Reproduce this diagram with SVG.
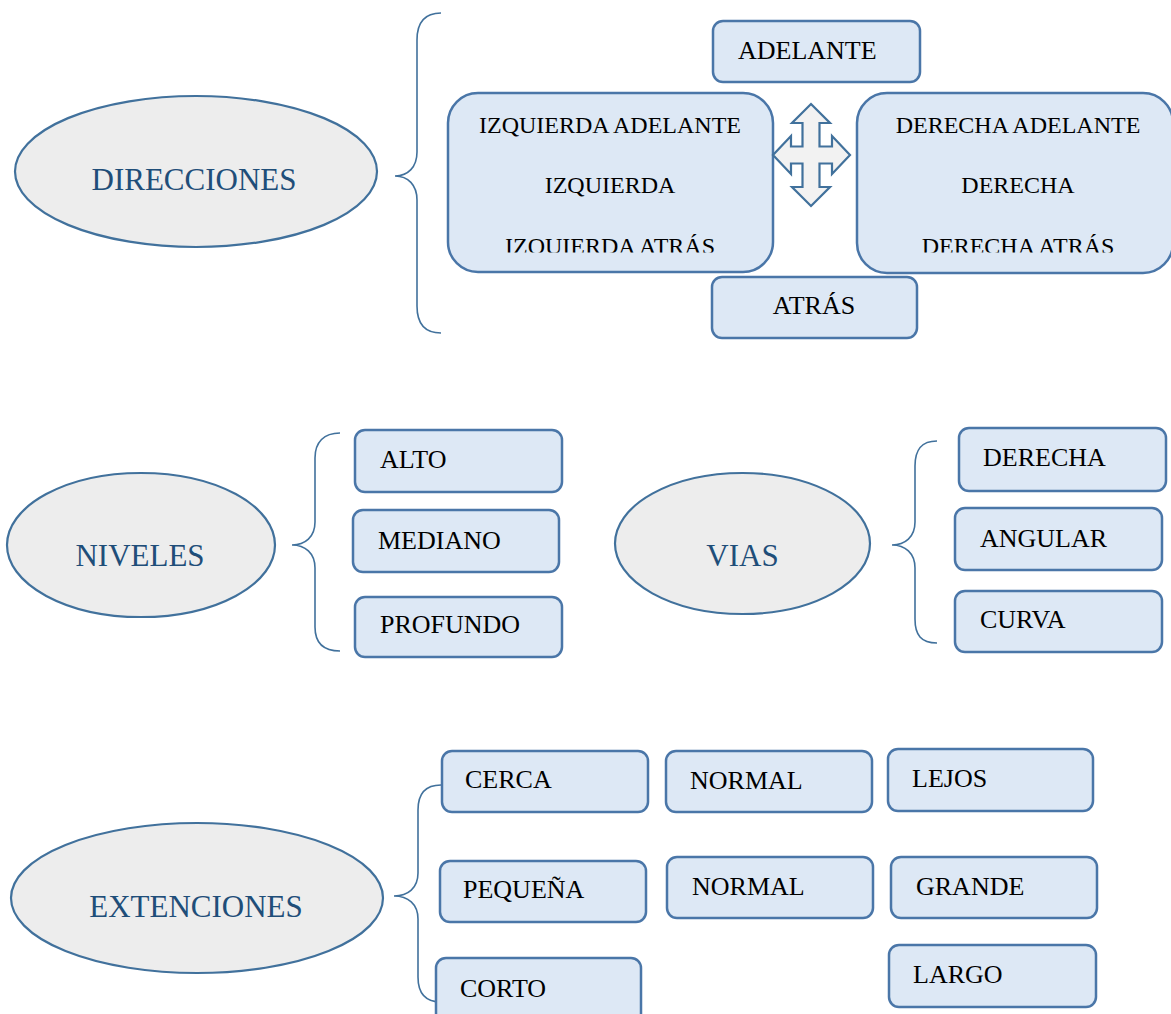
<svg xmlns="http://www.w3.org/2000/svg" width="1171" height="1014" viewBox="0 0 1171 1014">
<style>
.ell{fill:#ededed;stroke:#41719c;stroke-width:2.2}
.box{fill:#dde8f5;stroke:#4a76a8;stroke-width:2.5}
.big{fill:#dde8f5;stroke:#4a76a8;stroke-width:2.5}
.et{font-family:"Liberation Serif","Times New Roman",serif;font-size:31px;fill:#1f4e79;text-anchor:middle}
.bt{font-family:"Liberation Serif","Times New Roman",serif;font-size:26px;fill:#000}
.gt{font-family:"Liberation Serif","Times New Roman",serif;font-size:24px;fill:#000;text-anchor:middle}
.brace{fill:none;stroke:#41719c;stroke-width:1.6}
.cross{fill:#f2f2f2;stroke:#41719c;stroke-width:2.2;stroke-linejoin:miter}
</style>
<defs>
<clipPath id="clipL"><rect x="448" y="93" width="325" height="159.5"/></clipPath>
<clipPath id="clipR"><rect x="857" y="93" width="316" height="159.5"/></clipPath>
</defs>
<rect width="1171" height="1014" fill="#ffffff"/>

<g id="connectors">
<path class="brace" d="M441,13 C425,13 417,22 417,40 L417,152 C417,167 408,176 395,176 C408,176 417,185 417,200 L417,306 C417,324 425,333 441,333"/>
<path class="brace" d="M340,433 C324,433 315,442 315,458 L315,522 C315,537 305,545 292,545 C305,545 315,553 315,568 L315,627 C315,643 324,651 340,651"/>
<path class="brace" d="M937,441 C921,441 915,450 915,466 L915,522 C915,537 905,545 892,545 C905,545 915,553 915,568 L915,619 C915,635 921,643 937,643"/>
<path class="brace" d="M441,785 C425,785 418,794 418,810 L418,873 C418,888 408,896 394,896 C408,896 418,904 418,919 L418,977 C418,993 425,1002 441,1002"/>
</g>

<g id="direcciones">
<ellipse class="ell" cx="196" cy="171.5" rx="181" ry="75.5"/>
<text class="et" x="194" y="190">DIRECCIONES</text>
</g>

<g id="adelante">
<rect class="box" x="713" y="21" width="207" height="61" rx="10"/>
<text class="bt" x="738" y="59">ADELANTE</text>
</g>

<g id="izquierda">
<rect class="big" x="448" y="93" width="325" height="179" rx="30"/>
<g clip-path="url(#clipL)">
<text class="gt" x="610" y="133">IZQUIERDA ADELANTE</text>
<text class="gt" x="610" y="193">IZQUIERDA</text>
<text class="gt" x="610" y="254">IZQUIERDA ATRÁS</text>
</g>
</g>

<g id="cruz">
<polygon class="cross" points="811,104 830,123 819.5,123 819.5,146.5 832,146.5 832,136 850,155 832,174 832,163.5 819.5,163.5 819.5,187 830,187 811,206 792,187 802.5,187 802.5,163.5 791,163.5 791,174 773,155 791,136 791,146.5 802.5,146.5 802.5,123 792,123"/>
</g>

<g id="derecha">
<rect class="big" x="857" y="93" width="316" height="180" rx="30"/>
<g clip-path="url(#clipR)">
<text class="gt" x="1018" y="133">DERECHA ADELANTE</text>
<text class="gt" x="1018" y="193">DERECHA</text>
<text class="gt" x="1018" y="254">DERECHA ATRÁS</text>
</g>
</g>

<g id="atras">
<rect class="box" x="712" y="277" width="205" height="61" rx="10"/>
<text class="bt" x="814" y="314" text-anchor="middle">ATRÁS</text>
</g>

<g id="niveles">
<ellipse class="ell" cx="141" cy="545" rx="134" ry="72"/>
<text class="et" x="140" y="566">NIVELES</text>
</g>

<g id="alto">
<rect class="box" x="355" y="430" width="207" height="62" rx="10"/>
<text class="bt" x="380" y="468">ALTO</text>
</g>
<g id="mediano">
<rect class="box" x="353" y="510" width="206" height="62" rx="10"/>
<text class="bt" x="378" y="549">MEDIANO</text>
</g>
<g id="profundo">
<rect class="box" x="355" y="597" width="207" height="60" rx="10"/>
<text class="bt" x="380" y="633">PROFUNDO</text>
</g>

<g id="vias">
<ellipse class="ell" cx="742.5" cy="543.5" rx="127.5" ry="70.5"/>
<text class="et" x="742.5" y="566">VIAS</text>
</g>

<g id="derecha-via">
<rect class="box" x="959" y="428" width="207" height="63" rx="10"/>
<text class="bt" x="983" y="466">DERECHA</text>
</g>
<g id="angular">
<rect class="box" x="955" y="508" width="207" height="62" rx="10"/>
<text class="bt" x="980" y="547">ANGULAR</text>
</g>
<g id="curva">
<rect class="box" x="955" y="591" width="207" height="61" rx="10"/>
<text class="bt" x="980" y="628">CURVA</text>
</g>

<g id="extenciones">
<ellipse class="ell" cx="197" cy="898" rx="186" ry="75"/>
<text class="et" x="196" y="917">EXTENCIONES</text>
</g>

<g id="cerca">
<rect class="box" x="442" y="751" width="206" height="61" rx="10"/>
<text class="bt" x="465" y="788">CERCA</text>
</g>
<g id="normal1">
<rect class="box" x="666" y="751" width="206" height="61" rx="10"/>
<text class="bt" x="690" y="789">NORMAL</text>
</g>
<g id="lejos">
<rect class="box" x="888" y="749" width="205" height="62" rx="10"/>
<text class="bt" x="912" y="787">LEJOS</text>
</g>
<g id="pequena">
<rect class="box" x="440" y="861" width="206" height="61" rx="10"/>
<text class="bt" x="463" y="898">PEQUEÑA</text>
</g>
<g id="normal2">
<rect class="box" x="667" y="857" width="206" height="61" rx="10"/>
<text class="bt" x="692" y="895">NORMAL</text>
</g>
<g id="grande">
<rect class="box" x="891" y="857" width="206" height="61" rx="10"/>
<text class="bt" x="916" y="895">GRANDE</text>
</g>
<g id="corto">
<rect class="box" x="436" y="958" width="205" height="70" rx="10"/>
<text class="bt" x="460" y="997">CORTO</text>
</g>
<g id="largo">
<rect class="box" x="889" y="945" width="207" height="62" rx="10"/>
<text class="bt" x="913" y="983">LARGO</text>
</g>
</svg>
